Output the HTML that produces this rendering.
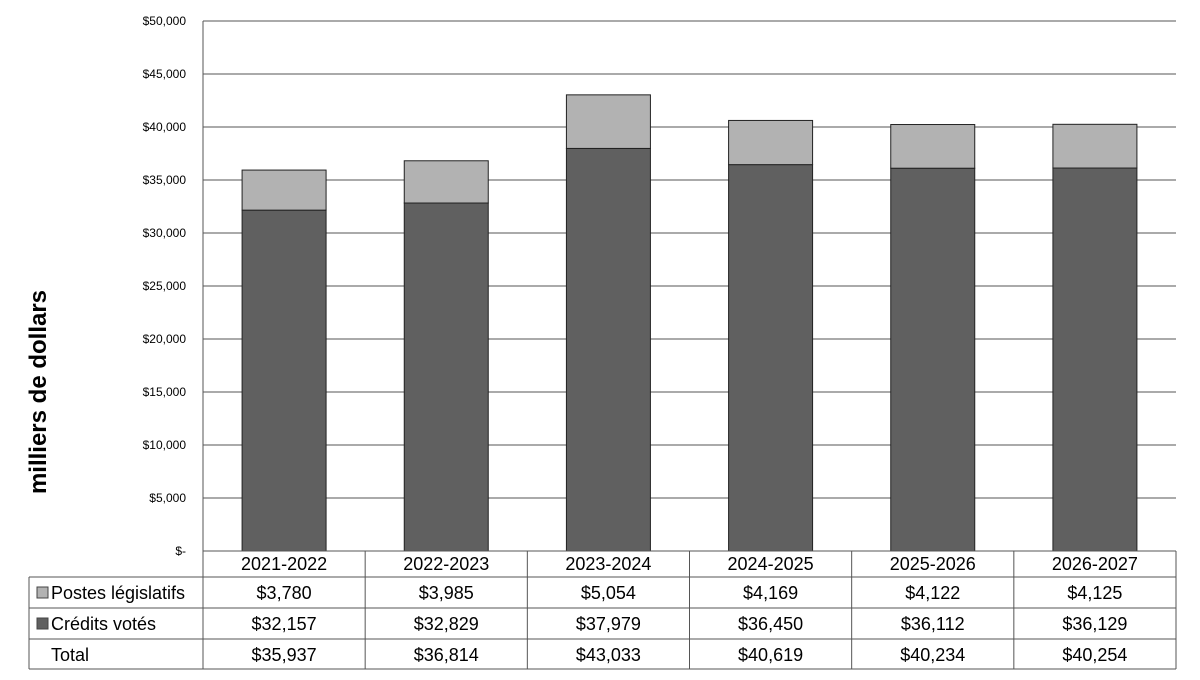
<!DOCTYPE html>
<html><head><meta charset="utf-8"><style>
body{margin:0;background:#fff;}
svg{display:block;font-family:"Liberation Sans",sans-serif;}
</style></head><body>
<svg id="c" width="1200" height="680" xmlns="http://www.w3.org/2000/svg">
<text x="46" y="392" transform="rotate(-90 46 392)" text-anchor="middle" font-size="24" font-weight="bold" fill="#000">milliers de dollars</text>
<g id="grid"></g><g id="bars"></g><g id="table"></g>
</svg>
<script>
const categories=["2021-2022","2022-2023","2023-2024","2024-2025","2025-2026","2026-2027"];
const postes=[3780,3985,5054,4169,4122,4125];
const credits=[32157,32829,37979,36450,36112,36129];
const totals=[35937,36814,43033,40619,40234,40254];
const yTicks=[0,5000,10000,15000,20000,25000,30000,35000,40000,45000,50000];
const NS="http://www.w3.org/2000/svg";
const L=203,R=1176,Y0=551,YT=21,MAX=50000;
const colW=(R-L)/categories.length;
const y=v=>Y0-(v/MAX)*(Y0-YT);
const x=i=>L+colW*i;
function mk(t,a,p){const e=document.createElementNS(NS,t);for(const k in a)e.setAttribute(k,a[k]);p.appendChild(e);return e;}
const fmt=v=>"$"+v.toLocaleString("en-US");
const g=document.getElementById("grid");
yTicks.forEach(v=>{
 const ln=mk("line",{x1:L,x2:R,y1:y(v),y2:y(v),stroke:"#555","stroke-width":1},g);
 
 
 const t=mk("text",{x:186,y:y(v)+4,"text-anchor":"end","font-size":12,fill:"#000"},g);
 t.textContent=v===0?"$-":"$"+v.toLocaleString("en-US");
 
 
});
const ax=mk("line",{x1:L,x2:L,y1:YT,y2:Y0,stroke:"#555"},g);


const b=document.getElementById("bars");
const bw=84;
categories.forEach((c,i)=>{
 const cx=x(i)+colW/2;
 const r1=mk("rect",{x:cx-bw/2,y:y(credits[i]),width:bw,height:Y0-y(credits[i]),fill:"#606060",stroke:"#222","stroke-width":1},b);
 
 
 const top=credits[i]+postes[i];
 const r2=mk("rect",{x:cx-bw/2,y:y(top),width:bw,height:y(credits[i])-y(top),fill:"#b2b2b2",stroke:"#222","stroke-width":1},b);
 
 
});
const tb=document.getElementById("table");
const rows=[551,577,608,639,669];
const TL=29;
const st={stroke:"#555","stroke-width":1};
function line(x1,y1,x2,y2,n){const e=mk("line",Object.assign({x1,y1,x2,y2},st),tb);}
line(L,rows[0],R,rows[0],'table-line');
for(let r=1;r<rows.length;r++)line(TL,rows[r],R,rows[r],'table-line');
line(TL,rows[1],TL,rows[4],'table-line');
for(let i=0;i<=categories.length;i++)line(x(i),rows[0],x(i),rows[4],'table-line');
function txt(s,xx,yy,anchor,n){const t=mk("text",{x:xx,y:yy,"text-anchor":anchor,"font-size":18,fill:"#000"},tb);t.textContent=s;return t;}
categories.forEach((c,i)=>{
 const cx=x(i)+colW/2;
 txt(c,cx,rows[0]+19,"middle","category-label");
 txt(fmt(postes[i]),cx,rows[1]+22,"middle","value-postes");
 txt(fmt(credits[i]),cx,rows[2]+22,"middle","value-credits");
 txt(fmt(totals[i]),cx,rows[3]+22,"middle","value-total");
});
const s1=mk("rect",{x:37,y:rows[1]+10,width:11,height:11,fill:"#b2b2b2",stroke:"#444"},tb);


txt("Postes législatifs",51,rows[1]+22,"start","legend-entry-postes");
const s2=mk("rect",{x:37,y:rows[2]+10,width:11,height:11,fill:"#606060",stroke:"#444"},tb);


txt("Crédits votés",51,rows[2]+22,"start","legend-entry-credits");
txt("Total",51,rows[3]+22,"start","row-label-total");
</script>
</body></html>
